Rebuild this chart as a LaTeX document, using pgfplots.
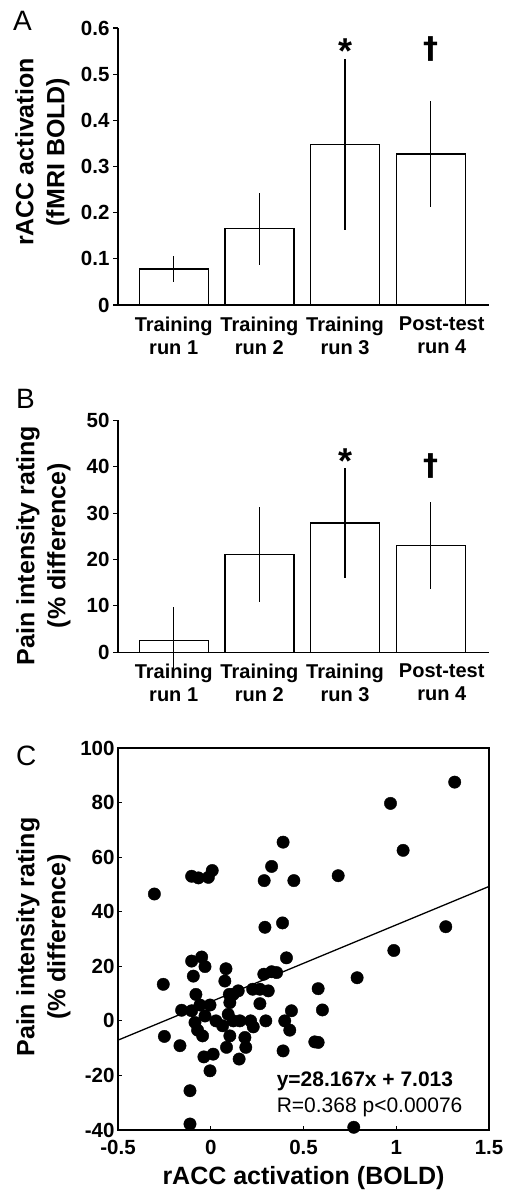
\documentclass[border=0pt]{standalone}
\usepackage{fontspec}
\setmainfont{Liberation Sans}
\newfontfamily\dagfont{DejaVu Sans}
\usepackage{pgfplots}
\pgfplotsset{compat=1.18}
\usepackage{pgfplotstable}

% bar data: x position, mean, error
\pgfplotstableread{
x y e
0 0.078 0.028
1 0.165 0.078
2 0.348 0.185
3 0.327 0.114
}\racc
\pgfplotstableread{
x y e
0 2.5 7.3
1 21.1 10.3
2 27.9 11.8
3 23.0 9.4
}\pain
% scatter: rACC activation vs pain rating
\pgfplotstableread{
x y
1.315 87.5
0.969 79.7
1.037 62.5
0.390 65.5
0.328 56.6
0.288 51.4
0.448 51.4
0.687 53.2
-0.304 46.5
-0.103 53.0
-0.067 52.4
-0.013 52.6
0.008 55.1
0.292 34.3
0.387 35.9
1.267 34.5
0.987 25.8
0.408 23.1
0.789 15.8
0.579 11.8
0.602 4.0
0.561 -7.7
0.579 -7.9
0.390 -11.0
0.771 -39.0
0.435 3.7
0.399 0.0
0.426 -3.4
-0.256 13.4
-0.250 -5.7
-0.166 -9.1
-0.157 3.9
-0.103 21.9
-0.049 23.4
-0.031 19.9
-0.094 16.4
-0.080 9.7
-0.103 3.7
-0.085 -0.6
-0.071 -3.4
-0.044 -5.5
-0.058 5.8
-0.004 5.8
-0.031 1.8
-0.037 -13.2
0.013 -12.2
-0.004 -18.3
-0.112 -25.6
-0.112 -37.8
0.028 0.0
0.064 -1.8
0.082 19.1
0.076 14.6
0.100 9.7
0.103 6.7
0.094 2.4
0.121 0.0
0.148 11.0
0.157 0.0
0.103 -5.5
0.085 -9.7
0.184 -6.1
0.189 -9.7
0.153 -14.0
0.215 0.0
0.229 -2.2
0.226 11.6
0.265 11.6
0.310 11.0
0.265 6.3
0.297 0.0
0.286 17.1
0.328 18.0
0.355 17.7
0.121 9.7
}\corr

\tikzset{
  dag/.style={font=\dagfont\bfseries\fontsize{30}{30}\selectfont, inner sep=0},
  star/.style={font=\bfseries\fontsize{36}{36}\selectfont, inner sep=0},
}

\pgfplotsset{
  panel/.style={
    scale only axis, width=371pt,
    /pgf/number format/assume math mode=true,
    tick label style={font=\bfseries\fontsize{20.5}{24}\selectfont},
    label style={font=\bfseries\fontsize{25}{31}\selectfont, align=center},
    axis line style={line width=1.3pt},
    every tick/.style={black, line width=1.1pt},
    clip=false,
  },
  barpanel/.style={
    panel,
    axis x line=bottom, axis y line=left, axis line style={-},
    xmin=-0.65, xmax=3.68, ymin=0,
    xtick={0,1,2,3},
    xticklabels={{Training\\run 1},{Training\\run 2},{Training\\run 3},
      {\hspace*{22pt}Post-test\\\hspace*{22pt}run 4}},
    xtick style={draw=none},
    xticklabel style={align=center, font=\bfseries\fontsize{20}{23}\selectfont, yshift=-3pt},
    tick align=outside, major tick length=5pt,
  },
  bars/.style={ybar, bar width=69pt, fill=white, draw=black, line width=1.3pt,
    error bars/.cd, y dir=both, y explicit, error mark=none,
    error bar style={line width=1.3pt}},
}

\begin{document}
\begin{tikzpicture}
\useasboundingbox (0pt,0pt) rectangle (505pt,-1193pt);

\node[anchor=base west, inner sep=0, font=\fontsize{28}{30}\selectfont] at (13pt,-31pt) {A};
\node[anchor=base west, inner sep=0, font=\fontsize{28}{30}\selectfont] at (16pt,-408pt) {B};
\node[anchor=base west, inner sep=0, font=\fontsize{28}{30}\selectfont] at (16pt,-765pt) {C};

% A
\begin{axis}[barpanel, at={(118pt,-305pt)}, anchor=south west,
  height=277pt, ymax=0.6, ytick={0,0.1,...,0.6},
  ylabel={rACC activation\\(fMRI BOLD)},
  ylabel style={at={(axis description cs:-0.204,0.552)}, anchor=center},
]
\addplot[bars] table[x=x, y=y, y error=e] {\racc};
\node[star] at (axis cs:2,0.551) {*};
\node[dag] at (axis cs:3,0.554) {†};
\end{axis}

% B
\begin{axis}[barpanel, at={(118pt,-652.3pt)}, anchor=south west,
  height=232pt, ymax=50, ytick={0,10,...,50},
  ylabel={Pain intensity rating\\(\% difference)},
  ylabel style={at={(axis description cs:-0.201,0.46)}, anchor=center},
]
\addplot[bars] table[x=x, y=y, y error=e] {\pain};
\node[star] at (axis cs:2,41.1) {*};
\node[dag] at (axis cs:3,40.2) {†};
\end{axis}

% C
\begin{axis}[panel, at={(118pt,-1130pt)}, anchor=south west,
  height=382pt,
  xmin=-0.5, xmax=1.5, ymin=-40, ymax=100,
  xtick={-0.5,0,...,1.5}, ytick={-40,-20,...,100},
  tick pos=left, tick align=inside, major tick length=4pt,
  xticklabel style={yshift=-7pt},
  ylabel={Pain intensity rating\\(\% difference)},
  ylabel style={at={(axis description cs:-0.201,0.505)}, anchor=center},
  xlabel={rACC activation (BOLD)},
  xlabel style={at={(axis description cs:0.5,-0.126)}, anchor=center},
]
\addplot[only marks, mark=*, mark size=6.2pt, black] table[x=x, y=y] {\corr};
\addplot[black, line width=1.3pt] coordinates {(-0.5,-7.07) (1.5,49.26)};
\node[anchor=base west, inner sep=0, font=\bfseries\fontsize{21}{24}\selectfont] at (axis cs:0.355,-24.1) {y=28.167x + 7.013};
\node[anchor=base west, inner sep=0, font=\fontsize{21}{24}\selectfont] at (axis cs:0.355,-33.5) {R=0.368 p<0.00076};
\end{axis}
\end{tikzpicture}
\end{document}
